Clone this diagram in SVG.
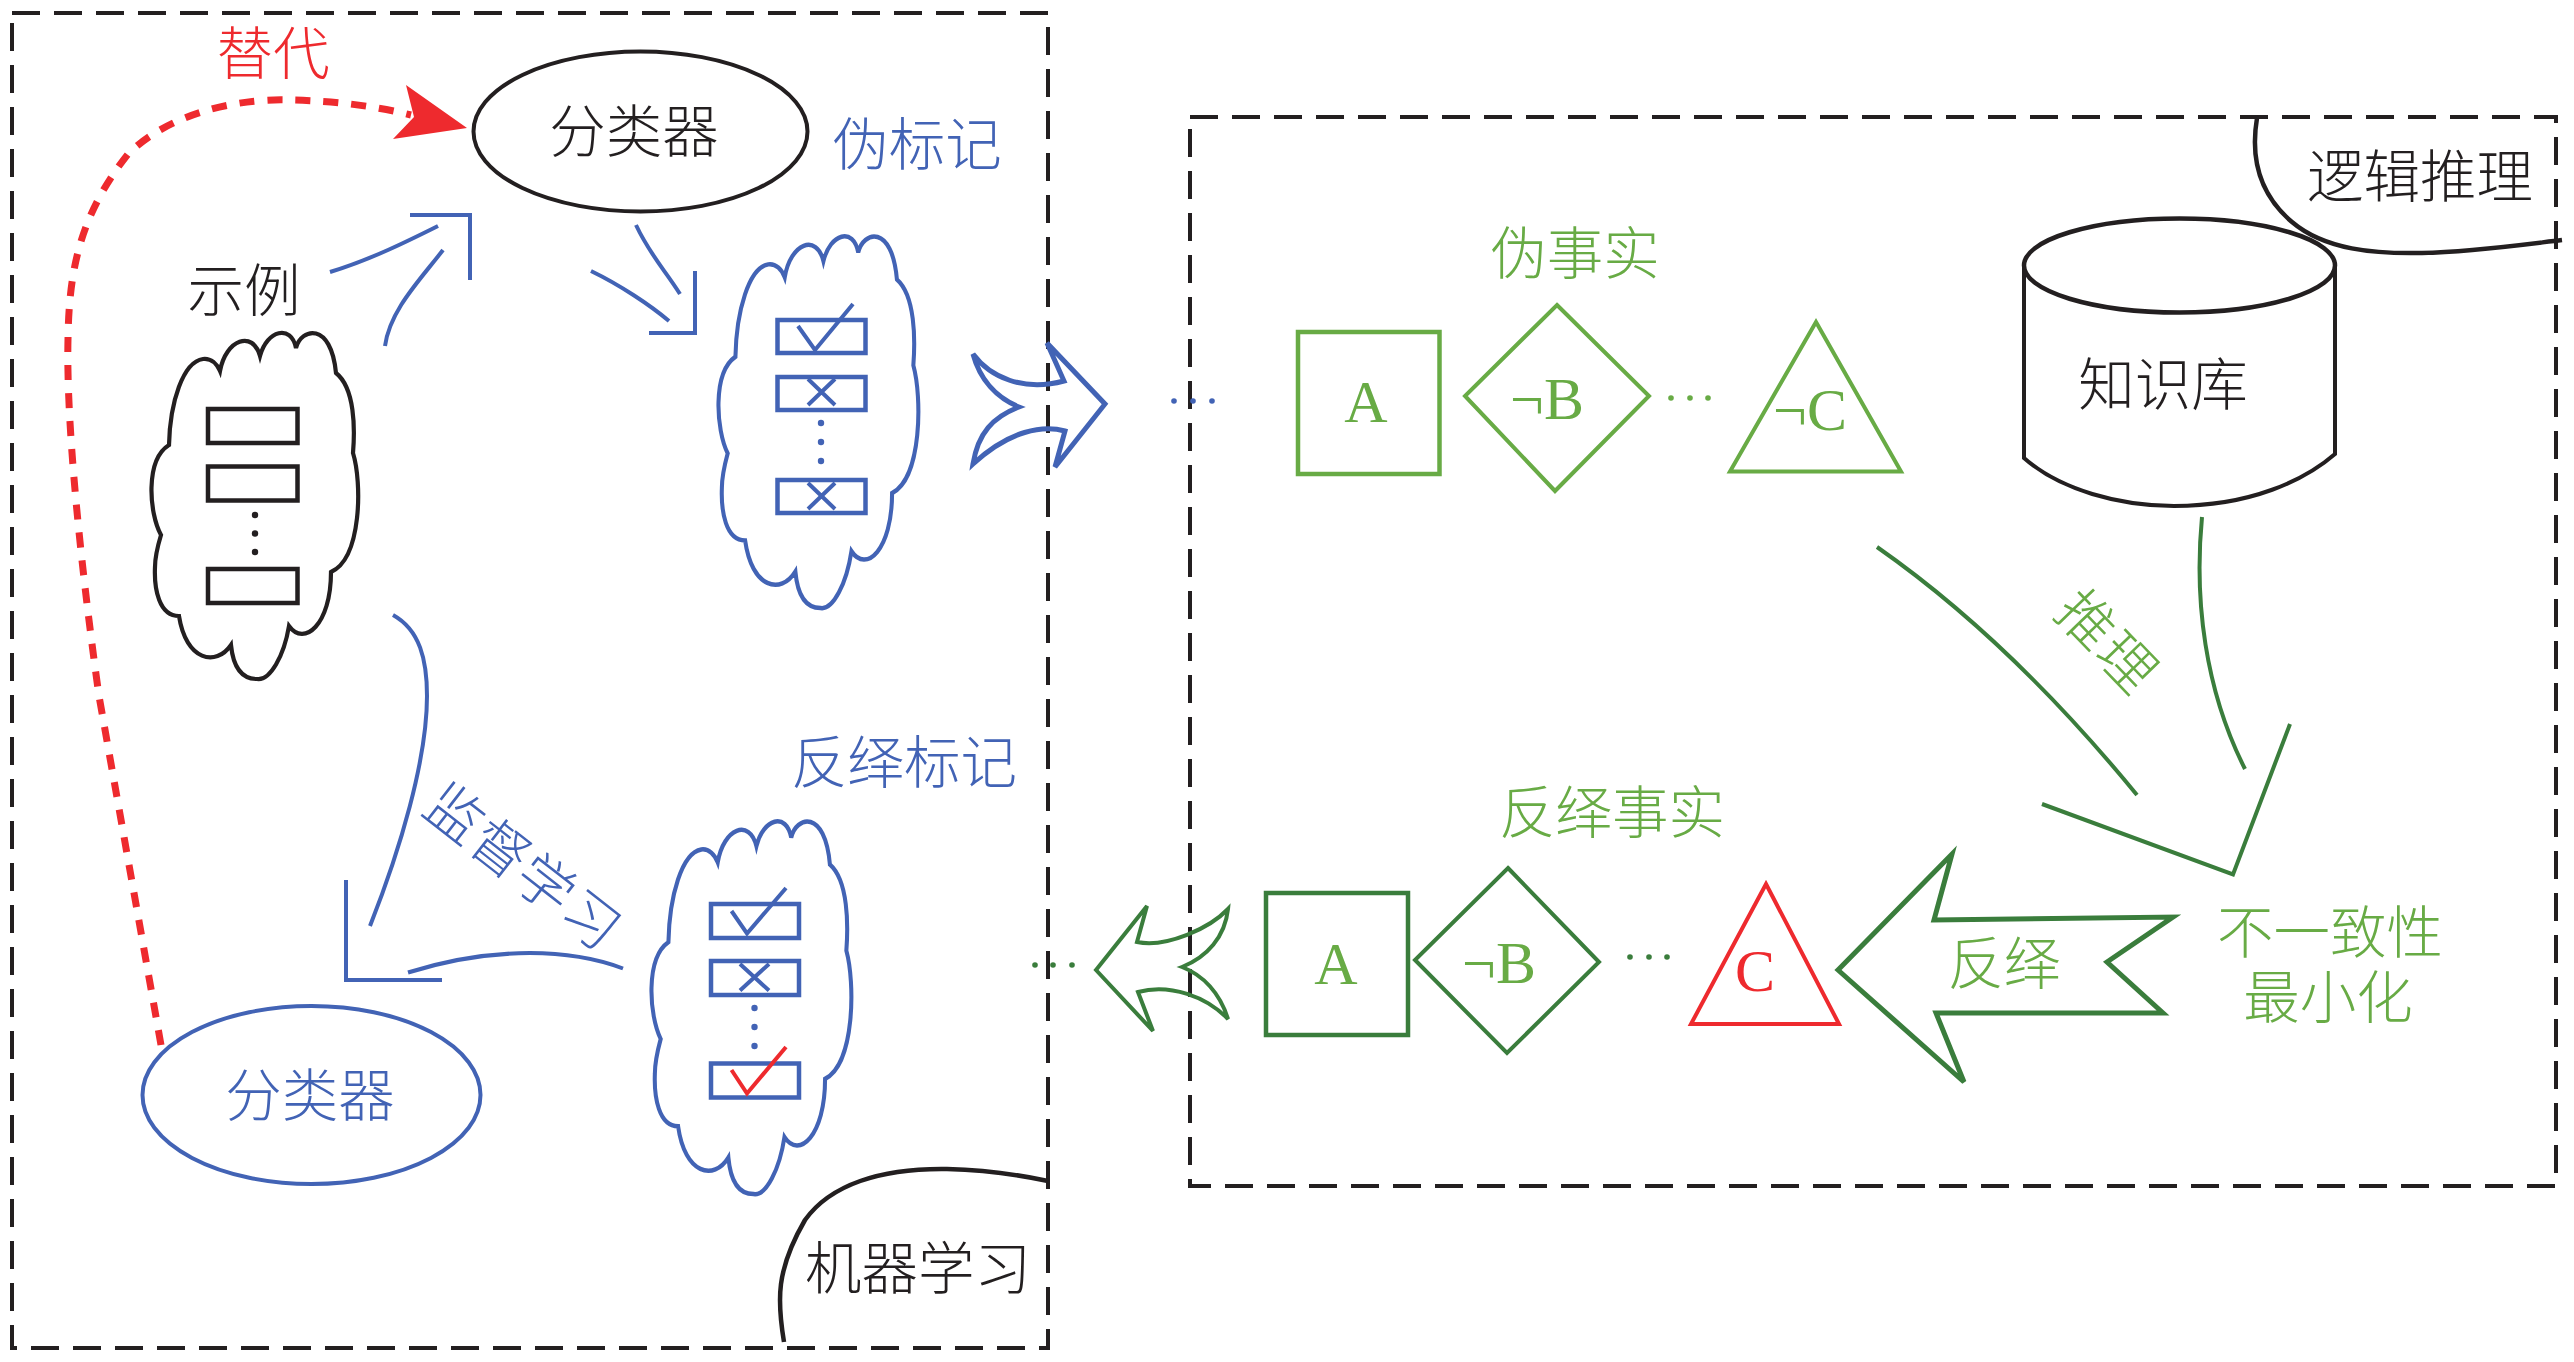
<svg xmlns="http://www.w3.org/2000/svg" xmlns:xlink="http://www.w3.org/1999/xlink" width="2574" height="1362" viewBox="0 0 2574 1362">
<style>
text{font-family:"Noto Sans CJK SC","Noto Sans",sans-serif;font-size:56.5px;font-weight:300;text-anchor:middle}
.m{font-family:"Liberation Serif",serif;font-size:60px;font-weight:400}
.k{fill:#231f20}.b{fill:#4263b5}.g{fill:#68ab45}.d{fill:#3a7d3c}.r{fill:#ee2a2e}
.frame{fill:none;stroke:#231f20;stroke-width:4;stroke-dasharray:28 14}
.s{fill:none;stroke-linejoin:miter}
.sk{stroke:#231f20}.sb{stroke:#4263b5}.sg{stroke:#68ab45}.sd{stroke:#3a7d3c}.sr{stroke:#ee2a2e}
.w3{stroke-width:3.5}.w4{stroke-width:4}.w5{stroke-width:4.5}
.cloud{fill:#fff;stroke-width:4.2;vector-effect:non-scaling-stroke}
</style>
<defs>
<path id="cloudShape" d="M169,445C170,402 183,362 203,359C211,358 217,364 220,371C226,339 253,330 260,356C267,330 291,324 296,348C301,328 331,321 336,373C355,388 355,429 353,453C362,482 362,558 331,572C331,625 304,647 289,626C284,656 270,681 257,679C240,679 233,665 231,645C216,667 186,661 179,616C159,616 154,589 155,567C155,555 158,545 161,535C149,513 145,460 169,445Z"/>
</defs>

<g id="frame-ml">
<rect class="frame" x="12" y="13" width="1036" height="1335"/>
<path class="s sk w5" d="M784,1342C777,1300 776,1270 805,1220C830,1185 880,1168 947,1169C985,1170 1020,1175 1048,1181"/>
<text class="k" x="918" y="1289">机器学习</text>
</g>
<g id="frame-logic">
<rect class="frame" x="1190" y="117" width="1366" height="1069"/>
<path class="s sk w5" d="M2257,118C2250,160 2260,195 2292,222C2325,250 2375,254 2422,253C2470,252 2520,245 2562,240"/>
<text class="k" x="2420" y="197">逻辑推理</text>
</g>

<g id="connectors">
<path class="s sr" stroke-width="7" stroke-dasharray="15 13" d="M161,1045L99,696C80,560 66,420 68,339C69,270 80,215 128,154C175,108 250,98 291,100C335,101 375,106 411,115"/>
<polygon class="r" points="406,85 467,128 393,139 414,117"/>
<g class="s sb w4">
<path d="M410,215H470V280"/>
<path d="M330,272C370,260 410,240 438,226"/>
<path d="M385,346C390,310 420,280 443,250"/>
<path d="M649,333H695V271"/>
<path d="M636,225C650,255 665,270 680,294"/>
<path d="M591,271C620,285 650,305 669,321"/>
<path d="M393,615C420,630 427,660 427,696C427,760 400,850 370,926"/>
<path d="M346,880V980H442"/>
<path d="M408,972.5C480,950 560,945 623,968.5"/>
<path stroke-width="5" d="M973,354C990,377 1023,392 1064,381L1047,343L1105,404L1055,467L1065,431C1043,425 1010,430 973,464C978,433 993,417 1019,407C997,398 980,380 973,354Z"/>
</g>
<g class="s sd w4">
<path d="M1096,970L1147,906L1137,942C1167,948 1210,928 1228,909C1225,937 1207,957 1182,967C1203,975 1220,993 1228,1019C1207,997 1170,983 1138,992L1153,1031Z"/>
<path d="M2290,724L2233,874.5L2042,804"/>
<path d="M1877,547Q2010,640 2137,795"/>
<path d="M2202,517C2194,600 2205,690 2245,769"/>
<path stroke-width="5" d="M1838,970L1952,854L1934,920L2173,917L2107,962L2163,1013L1936,1013L1964,1082Z"/>
</g>
<text class="r" x="273" y="74">替代</text>
<text class="b" x="0" y="20" transform="translate(523,867) rotate(38)" letter-spacing="1">监督学习</text>
<text class="g" x="0" y="20" transform="translate(2107,642) rotate(46)" letter-spacing="2">推理</text>
<text class="g" x="2004" y="984">反绎</text>
</g>

<g id="classifier-top">
<ellipse class="s sk w4" cx="640.5" cy="131.5" rx="167" ry="80"/>
<text class="k" x="634" y="152">分类器</text>
</g>
<g id="pseudo-label-text"><text class="b" x="917" y="165">伪标记</text></g>
<g id="instances">
<text class="k" x="244" y="311">示例</text>
<use href="#cloudShape" class="cloud sk"/>
<g class="s sk w5"><rect x="208" y="409" width="89.5" height="34"/><rect x="208" y="466.500" width="89.5" height="34"/><rect x="208" y="569" width="89.5" height="34"/></g>
<g class="k"><circle cx="255" cy="515" r="3.200"/><circle cx="255" cy="533.500" r="3.200"/><circle cx="255" cy="552" r="3.200"/></g>
</g>
<g id="pseudo-labelled">
<use href="#cloudShape" class="cloud sb" transform="matrix(.967 0 0 1.074 572 -121.200)"/>
<g class="s sb w5"><rect x="777.500" y="320" width="88" height="33"/><rect x="777.500" y="377" width="88" height="33"/><rect x="777.500" y="480" width="88" height="33"/></g>
<path class="s sb w4" d="M798,326L815,350L853,304M808,379L835,405M835,379L808,405M808,483L835,509M835,483L808,509"/>
<g class="b"><circle cx="821" cy="423" r="3.200"/><circle cx="821" cy="442" r="3.200"/><circle cx="821" cy="461" r="3.200"/></g>
</g>
<g id="abductive-label-text"><text class="b" x="904" y="783">反绎标记</text></g>
<g id="abductive-labelled">
<use href="#cloudShape" class="cloud sb" transform="matrix(.967 0 0 1.077 505 462.800)"/>
<g class="s sb w5"><rect x="711" y="904" width="88" height="34"/><rect x="711" y="961" width="88" height="34"/><rect x="711" y="1063.500" width="88" height="34"/></g>
<path class="s sb w4" d="M731.500,911L747,933.500L786,888M740,964L769,990.500M769,964L740,990.500"/>
<path class="s sr w4" d="M731.500,1070L747,1093.500L786,1047"/>
<g class="b"><circle cx="754.500" cy="1008" r="3.200"/><circle cx="754.500" cy="1027" r="3.200"/><circle cx="754.500" cy="1046" r="3.200"/></g>
</g>
<g id="classifier-bottom">
<ellipse class="s sb w4" cx="311.500" cy="1095" rx="169" ry="89"/>
<text class="b" x="310" y="1116">分类器</text>
</g>

<g id="dots-blue" class="b"><circle cx="1174" cy="401" r="2.800"/><circle cx="1193" cy="401" r="2.800"/><circle cx="1212" cy="401" r="2.800"/></g>
<g id="dots-dark" class="d"><circle cx="1035" cy="965" r="2.800"/><circle cx="1053" cy="965" r="2.800"/><circle cx="1072" cy="965" r="2.800"/></g>

<g id="pseudo-facts-title"><text class="g" x="1575" y="274">伪事实</text></g>
<g id="fact-a"><rect class="s sg w5" x="1298" y="332" width="141.500" height="142"/><text class="m g" x="1366" y="422">A</text></g>
<g id="fact-not-b"><polygon class="s sg w4" points="1557,305 1649,396 1555,491 1465,396"/><text class="m g" x="1547" y="419">¬B</text></g>
<g id="dots-green" class="g"><circle cx="1671" cy="398" r="2.800"/><circle cx="1690" cy="398" r="2.800"/><circle cx="1708" cy="398" r="2.800"/></g>
<g id="fact-not-c"><polygon class="s sg w4" points="1816,322 1901,471.500 1730,471.500"/><text class="m g" x="1810" y="430">¬C</text></g>

<g id="knowledge-base">
<path class="s sk w4" d="M2024,265V458C2060,490 2120,506 2174,506C2251,506 2305,480 2335,454V265"/>
<ellipse class="s sk w5" cx="2179.500" cy="265.500" rx="155.500" ry="47"/>
<text class="k" x="2163" y="405">知识库</text>
</g>

<g id="abduced-facts-title"><text class="g" x="1612" y="833">反绎事实</text></g>
<g id="abduced-a"><rect class="s sd w5" x="1266" y="893" width="142" height="142"/><text class="m g" x="1336" y="984">A</text></g>
<g id="abduced-not-b"><polygon class="s sd w4" points="1508,868 1599,962 1507,1053 1415,960"/><text class="m g" x="1499" y="983">¬B</text></g>
<g id="dots-green-2" class="d"><circle cx="1630" cy="957" r="2.800"/><circle cx="1649" cy="957" r="2.800"/><circle cx="1667" cy="957" r="2.800"/></g>
<g id="abduced-c"><polygon class="s sr w4" points="1766,884 1839,1024 1691,1024"/><text class="m r" x="1755" y="991">C</text></g>

<g id="inconsistency">
<text class="g" x="2330" y="953">不一致性</text>
<text class="g" x="2328" y="1018">最小化</text>
</g>
</svg>
